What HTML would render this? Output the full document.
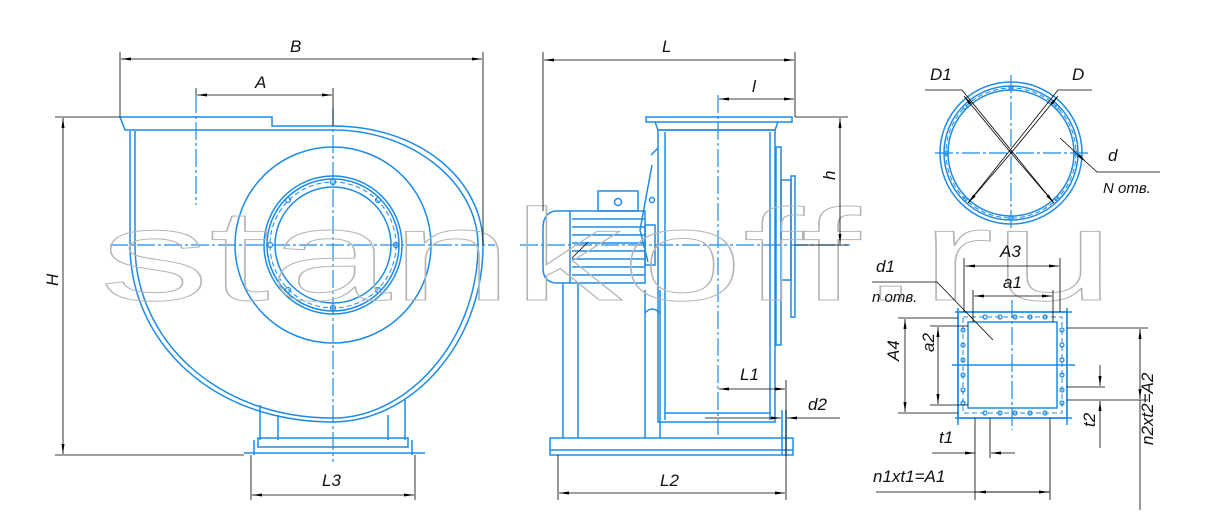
<!DOCTYPE html>
<html><head><meta charset="utf-8"><style>
html,body{margin:0;padding:0;background:#fff;}
svg{display:block;}
text{font-family:"Liberation Sans",sans-serif;font-style:italic;fill:#111;}
</style></head><body>
<svg width="1220" height="513" viewBox="0 0 1220 513" xmlns="http://www.w3.org/2000/svg">
<defs>
<marker id="ar" viewBox="0 0 10 4" refX="10" refY="2" markerWidth="10" markerHeight="4" orient="auto-start-reverse" markerUnits="userSpaceOnUse"><path d="M0,0.5 L10,2 L0,3.5 Z" fill="#000"/></marker>
</defs>
<g fill="none" stroke="#1e8be6" stroke-width="1.5">
<path d="M120,117 L272,117 L272,126 L333,126 C420,126 483,180 483,245 C483,345 410,422 333,422 C210,422 130,340 130,245 L130,131"/>
<path d="M272,130 L333,130 C415,130 478,185 478,245 C478,340 408,418 333,418 C215,418 135,338 135,245 L135,131"/>
<path d="M120,117 L125,130 L272,130"/>
<circle cx="333" cy="245" r="98"/>
<circle cx="333" cy="245" r="69"/>
<circle cx="333" cy="245" r="66"/>
<circle cx="333" cy="245" r="58"/>
<circle cx="333" cy="245" r="63" stroke-width="1" stroke-dasharray="5 3"/>
<g stroke-width="1.2">
<circle cx="333" cy="182" r="2.5"/><circle cx="333" cy="308" r="2.5"/><circle cx="270" cy="245" r="2.5"/><circle cx="396" cy="245" r="2.5"/>
<circle cx="288" cy="200" r="2.5"/><circle cx="378" cy="200" r="2.5"/><circle cx="288" cy="290" r="2.5"/><circle cx="378" cy="290" r="2.5"/>
</g>
<path d="M260,405 L260,440 M278,415 L278,440 M388,415 L388,440 M405,400 L405,440"/>
<rect x="258" y="438" width="150" height="9"/>
<path d="M244,453 L425,453 M254,440 L254,455 M412,440 L412,455"/>
<g stroke-width="1.2" stroke-dasharray="18 3 3 3">
<path d="M110,245 L495,245"/><path d="M333,108 L333,462"/><path d="M196,95 L196,205"/>
</g>
<path d="M646,117 L792,117 L792,122 L646,122 Z"/>
<path d="M655,122 L658,130 L775,130 L778,122"/>
<rect x="658" y="130" width="117" height="292"/>
<path d="M665,132 L665,420 M770,132 L770,420 M665,413 L770,413"/>
<rect x="776" y="147" width="5" height="198"/>
<rect x="781" y="180" width="10" height="100"/>
<rect x="791" y="176" width="4" height="141"/>
<path d="M651,155 L658,148 M648,262 L640,230 L652,165"/>
<path d="M570,211 L645,211 L645,283 L570,283 Z"/>
<path d="M570,211 L555,211 Q543,213 543,228 L543,268 Q543,282 556,283 L570,283"/>
<path d="M572,219 L645,219 M572,227 L645,227 M572,235 L645,235 M572,243 L645,243 M572,251 L645,251 M572,259 L645,259 M572,267 L645,267 M572,275 L645,275"/>
<rect x="598" y="191" width="40" height="20"/>
<circle cx="618" cy="202" r="3.5"/>
<circle cx="652" cy="200" r="2.5"/>
<rect x="645" y="225" width="10" height="40"/>
<path d="M563,283 L563,438 M578,283 L578,438 M645,290 L645,438 M660,290 L660,438 M645,313 Q652,305 660,313"/>
<path d="M550,438 L793,438 L793,455 L550,455 Z M550,450 L793,450"/>
<path d="M782,410 L782,455 M786,410 L786,455"/>
<g stroke-width="1.2" stroke-dasharray="18 3 3 3">
<path d="M520,245 L850,245"/><path d="M718,95 L718,435"/>
</g>
<circle cx="1011" cy="153" r="71"/>
<circle cx="1011" cy="153" r="67"/>
<circle cx="1011" cy="153" r="63"/>
<circle cx="1011" cy="153" r="65" stroke-width="1" stroke-dasharray="5 3"/>
<g stroke-width="1.2">
<circle cx="1011" cy="88" r="2"/><circle cx="1011" cy="218" r="2"/><circle cx="946" cy="153" r="2"/><circle cx="1076" cy="153" r="2"/>
<circle cx="965" cy="107" r="2"/><circle cx="1057" cy="107" r="2"/><circle cx="965" cy="199" r="2"/><circle cx="1057" cy="199" r="2"/>
</g>
<rect x="958" y="312" width="109" height="106"/>
<rect x="968" y="322" width="89" height="86"/>
<path d="M963,317 L1062,317 L1062,413 L963,413 Z" stroke-width="1" stroke-dasharray="5 3"/>
<path d="M955,312 L1072,312 M955,418 L1072,418 M958,308 L958,425 M1067,308 L1067,425 M952,365 L1075,365"/>
<g stroke-width="1.2">
<circle cx="985" cy="317" r="2"/><circle cx="1000" cy="317" r="2"/><circle cx="1015" cy="317" r="2"/><circle cx="1030" cy="317" r="2"/><circle cx="1045" cy="317" r="2"/>
<circle cx="985" cy="413" r="2"/><circle cx="1000" cy="413" r="2"/><circle cx="1015" cy="413" r="2"/><circle cx="1030" cy="413" r="2"/><circle cx="1045" cy="413" r="2"/>
<circle cx="963" cy="330" r="2"/><circle cx="963" cy="345" r="2"/><circle cx="963" cy="360" r="2"/><circle cx="963" cy="375" r="2"/><circle cx="963" cy="390" r="2"/><circle cx="963" cy="403" r="2"/>
<circle cx="1062" cy="330" r="2"/><circle cx="1062" cy="345" r="2"/><circle cx="1062" cy="360" r="2"/><circle cx="1062" cy="375" r="2"/><circle cx="1062" cy="390" r="2"/><circle cx="1062" cy="403" r="2"/>
</g>
<g stroke-width="1.2" stroke-dasharray="18 3 3 3">
<path d="M935,153 L1088,153"/><path d="M1011,75 L1011,232"/><path d="M1012,300 L1012,430"/>
</g>
</g>
<text x="100" y="300" font-size="130" textLength="1015" lengthAdjust="spacingAndGlyphs" style="font-style:normal;fill:none;stroke:#b5b5b5;stroke-width:1">stankoff.ru</text>
<g stroke="#000" stroke-width="0.8" fill="none">
<path d="M120,117 L120,52 M483,245 L483,52 M196,95 L196,88 M333,126 L333,88"/>
<path d="M121,59 L482,59" marker-start="url(#ar)" marker-end="url(#ar)"/>
<path d="M197,95 L332,95" marker-start="url(#ar)" marker-end="url(#ar)"/>
<path d="M55,117 L120,117 M55,455 L244,455"/>
<path d="M63,118 L63,454" marker-start="url(#ar)" marker-end="url(#ar)"/>
<path d="M251,455 L251,500 M415,455 L415,500"/>
<path d="M252,495 L414,495" marker-start="url(#ar)" marker-end="url(#ar)"/>
<path d="M543,211 L543,52 M795,117 L795,52"/>
<path d="M544,60 L794,60" marker-start="url(#ar)" marker-end="url(#ar)"/>
<path d="M719,99 L794,99" marker-start="url(#ar)" marker-end="url(#ar)"/>
<path d="M795,117 L848,117 M795,245 L848,245"/>
<path d="M840,118 L840,244" marker-start="url(#ar)" marker-end="url(#ar)"/>
<path d="M719,389 L785,389" marker-start="url(#ar)" marker-end="url(#ar)"/>
<path d="M786,380 L786,500 M558,455 L558,500"/>
<path d="M705,418 L781,418" marker-end="url(#ar)"/>
<path d="M840,418 L787,418" marker-end="url(#ar)"/>
<path d="M559,493 L785,493" marker-start="url(#ar)" marker-end="url(#ar)"/>
<path d="M572,258 L588,242"/>
<path d="M925,90 L962,90 L1054,203" />
<path d="M1011,153 L964,96" marker-end="url(#ar)"/>
<path d="M1011,153 L1054,203" marker-end="url(#ar)"/>
<path d="M1092,90 L1058,90 L968,203"/>
<path d="M1011,153 L1058,96" marker-end="url(#ar)"/>
<path d="M1011,153 L968,203" marker-end="url(#ar)"/>
<path d="M1060,138 L1086,162" marker-end="url(#ar)"/>
<path d="M1086,162 L1097,172 L1160,172"/>
<path d="M964,312 L964,258 M1060,312 L1060,258 M973,322 L973,290 M1053,322 L1053,290"/>
<path d="M965,266 L1059,266" marker-start="url(#ar)" marker-end="url(#ar)"/>
<path d="M974,296 L1052,296" marker-start="url(#ar)" marker-end="url(#ar)"/>
<path d="M872,282 L937,282 L993,340"/>
<path d="M898,318 L958,318 M898,413 L958,413 M930,326 L968,326 M930,405 L968,405"/>
<path d="M905,319 L905,412" marker-start="url(#ar)" marker-end="url(#ar)"/>
<path d="M938,327 L938,404" marker-start="url(#ar)" marker-end="url(#ar)"/>
<path d="M1067,328 L1148,328 M1067,400 L1148,400 M1067,387 L1105,387"/>
<path d="M1140,329 L1140,399" marker-start="url(#ar)" marker-end="url(#ar)"/>
<path d="M1100,365 L1100,386" marker-end="url(#ar)"/>
<path d="M1100,448 L1100,401" marker-end="url(#ar)"/>
<path d="M1140,400 L1140,510"/>
<path d="M975,418 L975,500 M1050,418 L1050,500 M990,418 L990,458"/>
<path d="M932,453 L975,453" marker-end="url(#ar)"/>
<path d="M1015,453 L991,453" marker-end="url(#ar)"/>
<path d="M876,492 L1050,492"/>
<path d="M976,492 L1049,492" marker-start="url(#ar)" marker-end="url(#ar)"/>
</g>
<g font-size="17">
<text x="290" y="52">B</text>
<text x="255" y="88">A</text>
<text x="52" y="292" transform="rotate(-90 52 286)">H</text>
<text x="322" y="486">L3</text>
<text x="662" y="52">L</text>
<text x="752" y="92">l</text>
<text x="830" y="185" transform="rotate(-90 830 180)">h</text>
<text x="740" y="380">L1</text>
<text x="808" y="410">d2</text>
<text x="660" y="486">L2</text>
<text x="930" y="80">D1</text>
<text x="1072" y="80">D</text>
<text x="1108" y="161">d</text>
<text x="1103" y="193" font-size="15">N отв.</text>
<text x="1000" y="257">A3</text>
<text x="1003" y="288">a1</text>
<text x="876" y="272">d1</text>
<text x="872" y="302" font-size="15">n отв.</text>
<text x="895" y="375" transform="rotate(-90 890 366)">A4</text>
<text x="929" y="365" transform="rotate(-90 925 356)">a2</text>
<text x="939" y="443">t1</text>
<text x="1092" y="440" transform="rotate(-90 1087 432)">t2</text>
<text x="873" y="482">n1xt1=A1</text>
<text x="1133" y="475" transform="rotate(-90 1128 450)">n2xt2=A2</text>
</g>
</svg>
</body></html>
